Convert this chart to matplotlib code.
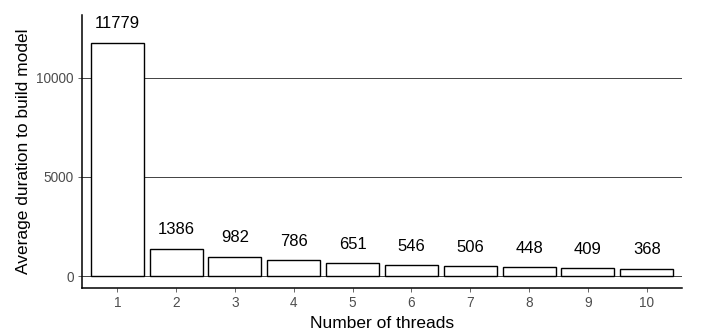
import numpy as np
import matplotlib
matplotlib.use("Agg")
import matplotlib.pyplot as plt

# データ
threads = [1, 2, 3, 4, 5, 6, 7, 8, 9, 10]
durations = [11779, 1386, 982, 786, 651, 546, 506, 448, 409, 368]
y_ticks = [0, 5000, 10000]

plt.rcParams["font.family"] = ["Liberation Sans", "DejaVu Sans"]

fig = plt.figure(figsize=(7.01, 3.32), dpi=100)
ax = fig.add_axes([0.117, 0.1325, 0.856, 0.8225])

# 横のグリッド線（棒の後ろ）
for t in y_ticks:
    ax.axhline(t, color="#222222", lw=0.6, zorder=0)

ax.bar(threads, durations, width=0.9, facecolor="white",
       edgecolor="black", linewidth=1.0, zorder=2)

# 棒の上に値を表示
for x, v in zip(threads, durations):
    ax.annotate(f"{v}", xy=(x, v), xytext=(0, 13.5), textcoords="offset points",
                ha="center", va="center", fontsize=12, color="black")

ax.set_xlim(0.4, 10.6)
ax.set_ylim(-606, 13180)
ax.set_xticks(threads)
ax.set_yticks(y_ticks)
ax.tick_params(colors="#4D4D4D", labelsize=9.8, length=3, width=0.6, pad=3)

for side in ["top", "right"]:
    ax.spines[side].set_visible(False)
for side in ["left", "bottom"]:
    ax.spines[side].set_linewidth(1.1)
    ax.spines[side].set_color("black")

ax.set_xlabel("Number of threads", fontsize=12.5, labelpad=4)
ax.set_ylabel("Average duration to build model", fontsize=12.5, labelpad=4)

fig.savefig("out.png", dpi=100)
